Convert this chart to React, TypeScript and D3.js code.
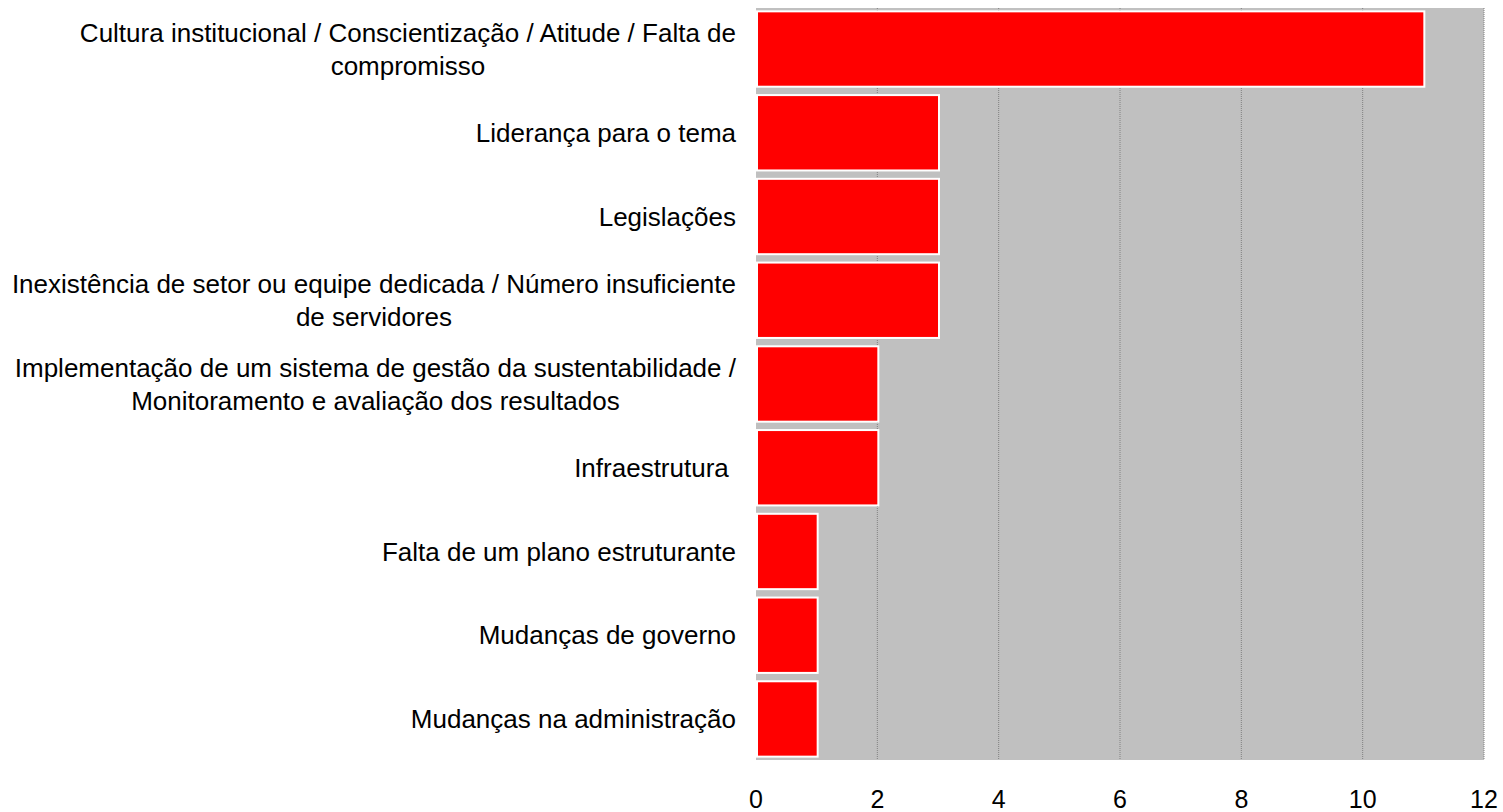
import React, { useEffect, useRef } from "react";
import * as d3 from "d3";

// categories, each already split into its display lines
const categories: string[][] = [
  ["Cultura institucional / Conscientização / Atitude / Falta de", "compromisso"],
  ["Liderança para o tema"],
  ["Legislações"],
  ["Inexistência de setor ou equipe dedicada / Número insuficiente", "de servidores"],
  ["Implementação de um sistema de gestão da sustentabilidade /", "Monitoramento e avaliação dos resultados"],
  ["Infraestrutura "],
  ["Falta de um plano estruturante"],
  ["Mudanças de governo"],
  ["Mudanças na administração"],
];
const values: number[] = [11, 3, 3, 3, 2, 2, 1, 1, 1];
const xTicks: number[] = [0, 2, 4, 6, 8, 10, 12];

const WIDTH = 1503;
const HEIGHT = 812;
const FONT = "'Liberation Sans', Arial, sans-serif";

const App: React.FC = () => {
  const svgRef = useRef<SVGSVGElement>(null);

  useEffect(() => {
    document.body.style.margin = "0";
    const svg = d3.select(svgRef.current);
    svg.selectAll("*").remove();

    const margin = { top: 8, right: 19, bottom: 52, left: 756 };

    const x = d3
      .scaleLinear()
      .domain([0, 12])
      .range([margin.left, WIDTH - margin.right]);

    const y = d3
      .scaleBand<number>()
      .domain(d3.range(categories.length))
      .range([margin.top, HEIGHT - margin.bottom])
      .paddingInner(0.1)
      .paddingOuter(0.04);

    // plot background
    svg
      .append("rect")
      .attr("x", x(0))
      .attr("y", margin.top)
      .attr("width", x(12) - x(0))
      .attr("height", HEIGHT - margin.bottom - margin.top)
      .attr("fill", "#c0c0c0");

    // gridlines
    svg
      .append("g")
      .selectAll("line")
      .data(xTicks.filter((t) => t > 0))
      .enter()
      .append("line")
      .attr("x1", (d) => x(d))
      .attr("x2", (d) => x(d))
      .attr("y1", margin.top)
      .attr("y2", HEIGHT - margin.bottom)
      .attr("stroke", "#808080")
      .attr("stroke-width", 1)
      .attr("stroke-dasharray", "1,1");

    // bars
    svg
      .append("g")
      .selectAll("rect")
      .data(values)
      .enter()
      .append("rect")
      .attr("x", x(0) + 1)
      .attr("y", (_, i) => y(i)!)
      .attr("width", (d) => x(d) - x(0))
      .attr("height", y.bandwidth())
      .attr("fill", "#ff0000")
      .attr("stroke", "#ffffff")
      .attr("stroke-width", 2);

    // category labels
    const labels = svg
      .append("g")
      .selectAll("text")
      .data(categories)
      .enter()
      .append("text")
      .attr("font-family", FONT)
      .attr("font-size", 26)
      .attr("fill", "#000000")
      .attr("text-anchor", "end")
      .style("white-space", "pre");

    labels.each(function (lines, i) {
      const t = d3.select(this);
      const cy = y(i)! + y.bandwidth() / 2;
      const lh = 33;
      const widths: number[] = [];
      lines.forEach((ln, j) => {
        const ts = t
          .append("tspan")
          .attr("x", 736)
          .attr("y", cy + (j - (lines.length - 1) / 2) * lh)
          .attr("dy", "0.35em")
          .text(ln);
        widths.push((ts.node() as SVGTextContentElement).getComputedTextLength());
      });
      // wrapped lines are centred under the widest one
      if (lines.length > 1) {
        const maxW = d3.max(widths) || 0;
        t.selectAll<SVGTSpanElement, unknown>("tspan").each(function (_, j) {
          d3.select(this).attr("x", 736 - (maxW - widths[j]) / 2);
        });
      }
    });

    // x tick labels
    svg
      .append("g")
      .selectAll("text")
      .data(xTicks)
      .enter()
      .append("text")
      .attr("x", (d) => x(d))
      .attr("y", 808)
      .attr("text-anchor", "middle")
      .attr("font-family", FONT)
      .attr("font-size", 25)
      .attr("fill", "#000000")
      .text((d) => String(d));
  }, []);

  return (
    <svg
      ref={svgRef}
      width={WIDTH}
      height={HEIGHT}
      style={{ display: "block", background: "#ffffff" }}
    />
  );
};

export default App;
